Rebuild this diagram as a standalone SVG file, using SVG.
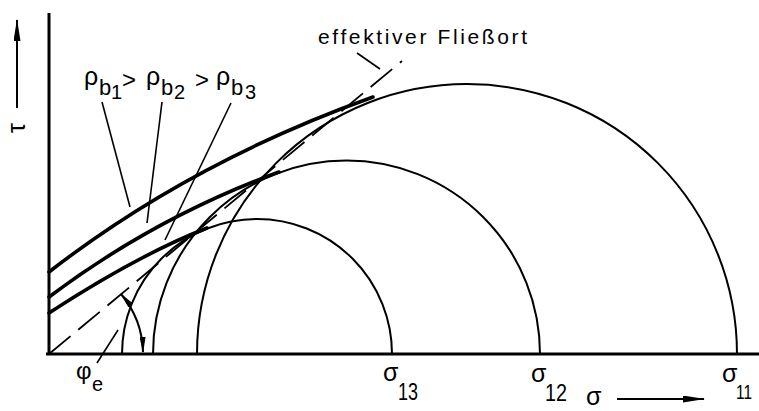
<svg xmlns="http://www.w3.org/2000/svg" width="759" height="411" viewBox="0 0 759 411">
<style>
.ax{stroke:#000;stroke-width:3;fill:none}
.thin{stroke:#000;stroke-width:2;fill:none}
.lead{stroke:#000;stroke-width:1.6;fill:none}
.thick{stroke:#000;stroke-width:3.6;fill:none;stroke-linecap:round}
.dash{stroke:#000;stroke-width:1.8;fill:none;stroke-dasharray:28 10}
text{font-family:"Liberation Sans","DejaVu Sans",sans-serif;fill:#000}
.lbl{font-size:25px}
.sub{font-size:23px}
</style>
<defs>
<marker id="ah" viewBox="0 0 16 6" refX="15" refY="3" markerWidth="16" markerHeight="6" markerUnits="userSpaceOnUse" orient="auto-start-reverse">
<path d="M0 0 L16 3 L0 6 Z" fill="#000"/>
</marker>
<marker id="axh" viewBox="0 0 22 7" refX="21" refY="3.5" markerWidth="22" markerHeight="7" markerUnits="userSpaceOnUse" orient="auto">
<path d="M0 0 L22 3.5 L0 7 Z" fill="#000"/>
</marker>
</defs>
<g id="axes">
<line class="ax" x1="49" y1="13" x2="49" y2="355"/>
<line class="ax" x1="46" y1="354" x2="759" y2="354"/>
</g>
<g id="tau-label">
<line class="thin" x1="17" y1="108" x2="17" y2="20" marker-end="url(#axh)"/>
<text class="lbl" transform="translate(25,128) rotate(-90)" text-anchor="middle">τ</text>
</g>
<g id="sigma-label">
<text class="lbl" x="586" y="405">σ</text>
<line class="thin" x1="617" y1="399" x2="704" y2="399" marker-end="url(#axh)"/>
</g>
<g id="circle1">
<path class="thin" d="M197 354 A270 270 0 0 1 737 354"/>
<text class="lbl" x="722" y="382">σ</text><text x="736" y="399" font-size="21" textLength="16" lengthAdjust="spacingAndGlyphs">11</text>
</g>
<g id="circle2">
<path class="thin" d="M153 354 A193.5 193.5 0 0 1 540 354"/>
<text class="lbl" x="531" y="382">σ</text><text class="sub" x="545" y="401" textLength="22" lengthAdjust="spacingAndGlyphs">12</text>
</g>
<g id="circle3">
<path class="thin" d="M122 354 A135 135 0 0 1 392 354"/>
<text class="lbl" x="383" y="381">σ</text><text class="sub" x="398" y="400" textLength="20" lengthAdjust="spacingAndGlyphs">13</text>
</g>
<g id="yield-loci">
<path class="thick" d="M49 272 Q189 163 373 97"/>
<path class="thick" d="M49 297 Q154 218 279 172"/>
<path class="thick" d="M49 313 Q138 255 207 228"/>
</g>
<g id="effective-yield-locus">
<line class="dash" x1="49" y1="354" x2="402" y2="61"/>
<text x="318" y="44" font-size="21" textLength="209" lengthAdjust="spacing">effektiver Fließort</text>
<line class="lead" x1="357" y1="53" x2="380" y2="69"/>
</g>
<g id="angle">
<path class="thin" d="M143 352 A94 94 0 0 0 121 294" marker-start="url(#ah)" marker-end="url(#ah)"/>
<text font-size="24" x="76" y="379">φ</text><text font-size="20" x="92" y="391">e</text>
<line class="lead" x1="97" y1="363" x2="118" y2="330"/>
</g>
<g id="density-label">
<text font-size="25" x="84" y="85">ρ</text><text font-size="22" x="99" y="95">b</text><text font-size="20" x="111" y="99">1</text>
<text font-size="24" x="122" y="88">&gt;</text>
<text font-size="25" x="146" y="85">ρ</text><text font-size="22" x="161" y="95">b</text><text font-size="20" x="174" y="99">2</text>
<text font-size="24" x="195" y="88">&gt;</text>
<text font-size="25" x="216" y="85">ρ</text><text font-size="22" x="231" y="95">b</text><text font-size="20" x="245" y="99">3</text>
<line class="lead" x1="102" y1="102" x2="130" y2="207"/>
<line class="lead" x1="162" y1="102" x2="147" y2="223"/>
<line class="lead" x1="231" y1="103" x2="165" y2="240"/>
</g>
</svg>
